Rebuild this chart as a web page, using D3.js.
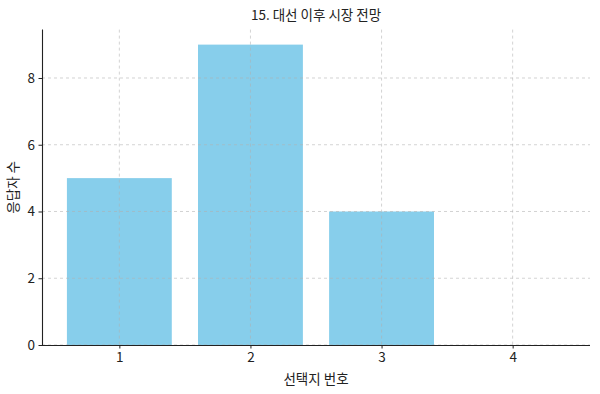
<!DOCTYPE html>
<html><head><meta charset="utf-8">
<script src="https://cdn.jsdelivr.net/npm/d3@7"></script>
<style>body{margin:0;background:#fff}svg{display:block}text{font-family:"Noto Sans CJK KR","Noto Sans",sans-serif}</style>
</head><body>
<script>
const categories = [1, 2, 3, 4];
const values = [5, 9, 4, 0];
const yTicks = [0, 2, 4, 6, 8];
const title = "15. 대선 이후 시장 전망";
const xLabel = "선택지 번호";
const yLabel = "응답자 수";

const W = 600, H = 394;
const m = {left: 42, right: 10, top: 29.6, bottom: 49};
const svg = d3.select("body").append("svg").attr("width", W).attr("height", H);
const x = d3.scaleLinear().domain([0.41, 4.59]).range([m.left, W - m.right]);
const y = d3.scaleLinear().domain([0, 9.45]).range([H - m.bottom, m.top]);
const bw = x(1.8) - x(1);

svg.append("g").selectAll("rect").data(categories).join("rect")
  .attr("x", (d) => x(d - 0.4)).attr("width", bw)
  .attr("y", (d, i) => y(values[i])).attr("height", (d, i) => y(0) - y(values[i]))
  .attr("fill", "#87CEEB");

const grid = svg.append("g").attr("stroke", "#b0b0b0").attr("stroke-opacity", 0.7)
  .attr("stroke-dasharray", "3,3").attr("stroke-width", 0.8);
grid.selectAll(".gx").data(categories).join("line")
  .attr("x1", (d) => x(d)).attr("x2", (d) => x(d)).attr("y1", m.top).attr("y2", H - m.bottom);
grid.selectAll(".gy").data(yTicks).join("line")
  .attr("x1", m.left).attr("x2", W - m.right).attr("y1", (d) => y(d)).attr("y2", (d) => y(d));

const xa = svg.append("g").attr("transform", `translate(0,${H - m.bottom})`)
  .call(d3.axisBottom(x).tickValues(categories).tickFormat(d3.format("d")).tickSize(3.5).tickPadding(3.5));
const ya = svg.append("g").attr("transform", `translate(${m.left},0)`)
  .call(d3.axisLeft(y).tickValues(yTicks).tickFormat(d3.format("d")).tickSize(3.5).tickPadding(3.5));
[xa, ya].forEach(a => {
  a.select(".domain").attr("stroke", "#222").attr("stroke-width", 1.1);
  a.selectAll(".tick line").attr("stroke", "#222");
  a.selectAll(".tick text").attr("fill", "#222").style("font-size", "13.5px");
});
ya.select(".domain").attr("d", `M0.5,${m.top}V${H - m.bottom}`);
xa.select(".domain").attr("d", `M${m.left},0.5H${W - m.right}`);

svg.append("text").attr("x", (m.left + W - m.right) / 2).attr("y", 19.5).attr("text-anchor", "middle")
  .style("font-size", "13.5px").attr("fill", "#222").text(title);
svg.append("text").attr("x", (m.left + W - m.right) / 2).attr("y", 384).attr("text-anchor", "middle")
  .style("font-size", "13.5px").attr("fill", "#222").text(xLabel);
svg.append("text").attr("transform", `translate(18,${(m.top + H - m.bottom) / 2}) rotate(-90)`)
  .attr("text-anchor", "middle").style("font-size", "13.5px").attr("fill", "#222").text(yLabel);
</script>
</body></html>
